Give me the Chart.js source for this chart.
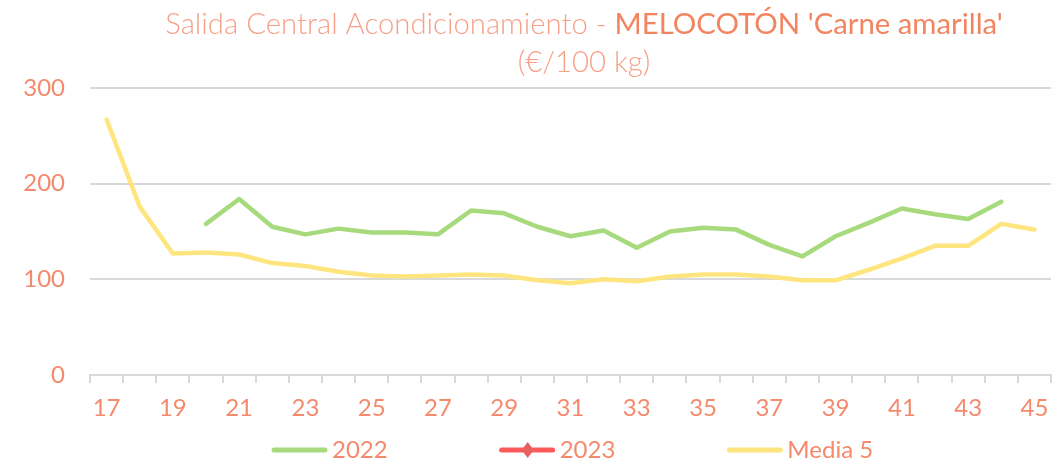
<!DOCTYPE html>
<html lang="es">
<head>
<meta charset="utf-8">
<title>Salida Central Acondicionamiento - MELOCOTÓN 'Carne amarilla'</title>
<script src="https://cdn.jsdelivr.net/npm/chart.js@4.4.1/dist/chart.umd.min.js"></script>
<style>
  html, body { margin: 0; padding: 0; background: #fff; }
  #wrap { width: 1064px; height: 466px; position: relative; }
</style>
</head>
<body>
<div id="wrap"><canvas id="chart"></canvas></div>
<script>
// semanas (eje X)
const weeks = ['17', '18', '19', '20', '21', '22', '23', '24', '25', '26', '27', '28', '29', '30', '31',
  '32', '33', '34', '35', '36', '37', '38', '39', '40', '41', '42', '43', '44', '45'];
const shownWeeks = ['17', '19', '21', '23', '25', '27', '29', '31', '33', '35', '37', '39', '41', '43', '45'];
const yTicks = [0, 100, 200, 300];

// €/100 kg
const price2022 = [null, null, null, 158, 184, 155, 147, 153, 149, 149, 147, 172, 169, 155, 145,
  151, 133, 150, 154, 152, 136, 124, 145, 159, 174, 168, 163, 181, null];
const price2023 = [null, null, null, null, null, null, null, null, null, null, null, null, null, null, null,
  null, null, null, null, null, null, null, null, null, null, null, null, null, null];
const media5 = [267, 176, 127, 128, 126, 117, 114, 108, 104, 103, 104, 105, 104, 99, 96,
  100, 98, 103, 105, 105, 103, 99, 99, 110, 122, 135, 135, 158, 152];

const titleLight = 'Salida Central Acondicionamiento - ';
const titleStrong = "MELOCOTÓN 'Carne amarilla'";
const subtitle = '(€/100 kg)';

const FONT = 'Lato, "Open Sans", sans-serif';
const TEXT_COLOR = '#F4896B';
const GRID_COLOR = '#D9D9D9';

const titlePlugin = {
  id: 'excelTitle',
  afterDraw(chart) {
    const { ctx } = chart;
    const cx = 584;
    ctx.save();
    ctx.textBaseline = 'alphabetic';
    ctx.textAlign = 'left';

    let size = 30;
    ctx.font = `300 ${size}px ${FONT}`;
    let w1 = ctx.measureText(titleLight).width;
    ctx.font = `400 ${size}px ${FONT}`;
    let w2 = ctx.measureText(titleStrong).width;
    // ajustar al ancho del título original
    size = Math.min(32, size * 838 / (w1 + w2));
    ctx.font = `300 ${size}px ${FONT}`;
    w1 = ctx.measureText(titleLight).width;
    ctx.font = `400 ${size}px ${FONT}`;
    w2 = ctx.measureText(titleStrong).width;

    const x0 = cx - (w1 + w2) / 2;
    ctx.font = `300 ${size}px ${FONT}`;
    ctx.fillStyle = '#F6A088';
    ctx.fillText(titleLight, x0, 34);
    ctx.font = `400 ${size}px ${FONT}`;
    ctx.fillStyle = '#F2845F';
    ctx.fillText(titleStrong, x0 + w1, 34);

    ctx.font = `300 ${size}px ${FONT}`;
    ctx.fillStyle = '#F6A088';
    ctx.textAlign = 'center';
    ctx.fillText(subtitle, cx, 72);
    ctx.restore();
  },
};

const legendPlugin = {
  id: 'excelLegend',
  afterDraw(chart) {
    const { ctx } = chart;
    const y = 450;
    let x = 272;
    ctx.save();
    ctx.font = `24px ${FONT}`;
    ctx.textBaseline = 'alphabetic';
    ctx.textAlign = 'left';
    chart.data.datasets.forEach((ds) => {
      ctx.strokeStyle = ds.borderColor;
      ctx.lineWidth = 5;
      ctx.lineCap = 'round';
      ctx.beginPath();
      ctx.moveTo(x + 2, y);
      ctx.lineTo(x + 53, y);
      ctx.stroke();
      if (ds.pointRadius > 0) {
        const mx = x + 28;
        ctx.fillStyle = ds.pointBackgroundColor;
        ctx.beginPath();
        ctx.moveTo(mx, y - 8);
        ctx.lineTo(mx + 6, y);
        ctx.lineTo(mx, y + 8);
        ctx.lineTo(mx - 6, y);
        ctx.closePath();
        ctx.fill();
      }
      ctx.fillStyle = TEXT_COLOR;
      ctx.fillText(ds.label, x + 60, y + 8);
      x += 60 + ctx.measureText(ds.label).width + 112;
    });
    ctx.restore();
  },
};

const data = {
  labels: weeks,
  datasets: [
    {
      label: '2022',
      data: price2022,
      borderColor: '#A6DA7C',
      borderWidth: 4.5,
      pointRadius: 0,
    },
    {
      label: '2023',
      data: price2023,
      borderColor: '#FF5A5A',
      borderWidth: 4.5,
      pointStyle: 'rectRot',
      pointRadius: 6,
      pointBackgroundColor: '#E8605E',
      pointBorderWidth: 0,
    },
    {
      label: 'Media 5',
      data: media5,
      borderColor: '#FFE57F',
      borderWidth: 4.5,
      pointRadius: 0,
    },
  ],
};

const options = {
  responsive: true,
  maintainAspectRatio: false,
  animation: false,
  layout: { padding: { top: 88, right: 13, bottom: 41, left: 0 } },
  elements: {
    line: { tension: 0, borderCapStyle: 'round', borderJoinStyle: 'round' },
  },
  plugins: {
    legend: { display: false },
    tooltip: { enabled: false },
  },
  scales: {
    x: {
      offset: true,
      grid: {
        offset: true,
        drawOnChartArea: false,
        tickLength: 8,
        color: GRID_COLOR,
        lineWidth: 2,
      },
      border: { color: GRID_COLOR, width: 2 },
      ticks: {
        autoSkip: false,
        maxRotation: 0,
        padding: 11,
        color: TEXT_COLOR,
        font: { family: FONT, size: 24 },
        callback(value) {
          const lbl = this.getLabelForValue(value);
          return shownWeeks.includes(lbl) ? lbl : '';
        },
      },
      afterFit(scale) { scale.height = 50; },
    },
    y: {
      min: yTicks[0],
      max: yTicks[yTicks.length - 1],
      grid: { color: GRID_COLOR, lineWidth: 2, drawTicks: false },
      border: { display: false },
      ticks: {
        stepSize: 100,
        padding: 25,
        color: TEXT_COLOR,
        font: { family: FONT, size: 24 },
      },
      afterFit(scale) { scale.width = 90; },
    },
  },
};

new Chart(document.getElementById('chart'), {
  type: 'line',
  data,
  options,
  plugins: [titlePlugin, legendPlugin],
});
</script>
</body>
</html>
